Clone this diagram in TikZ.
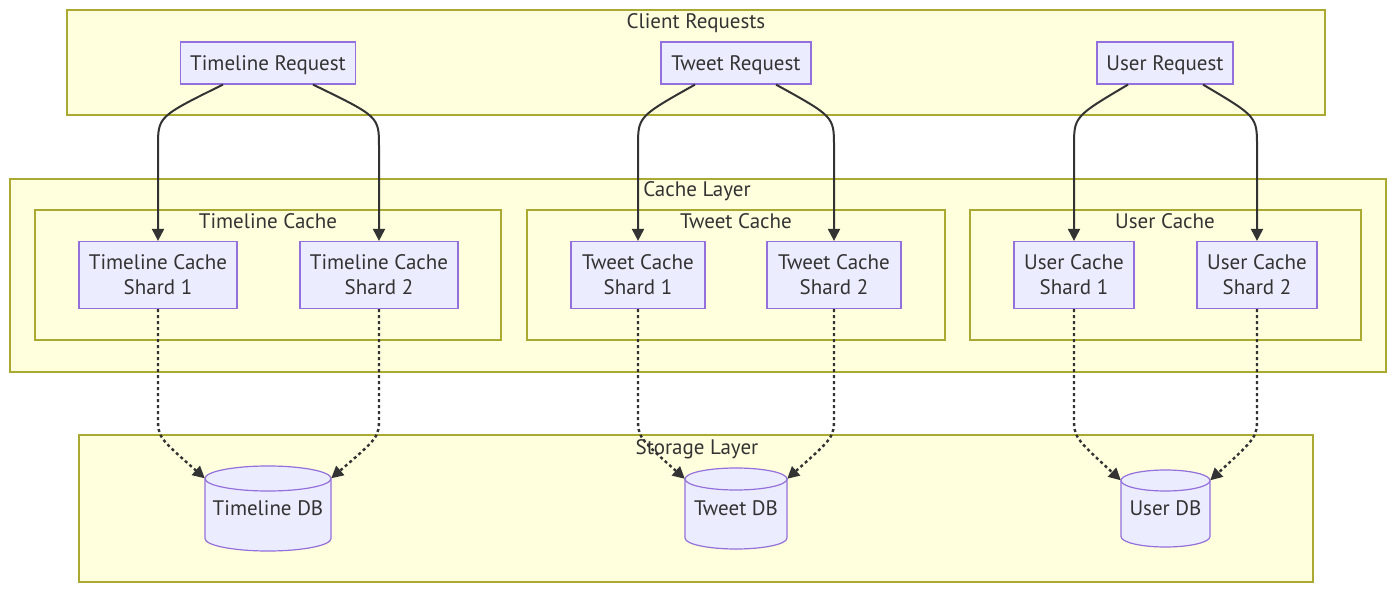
\documentclass[tikz,border=0pt]{standalone}
\usepackage{fontspec}
\setmainfont{PT Sans}
\usetikzlibrary{arrows.meta}
\definecolor{clusterfill}{HTML}{FFFFDE}
\definecolor{clusterline}{HTML}{AAAA33}
\definecolor{nodefill}{HTML}{ECECFF}
\definecolor{nodeline}{HTML}{9370DB}
\definecolor{ink}{HTML}{333333}
\tikzset{
  cluster/.style={draw=clusterline,fill=clusterfill,line width=1.2pt},
  title/.style={text=ink,font=\fontsize{21}{25}\selectfont,inner sep=0pt,anchor=base},
  box/.style={draw=nodeline,fill=nodefill,line width=1.2pt,text=ink,align=center,
    font=\fontsize{21}{25}\selectfont,inner sep=0pt,text depth=0pt,minimum width=#1},
  request/.style={box=#1,minimum height=42pt},
  shard/.style={box=#1,minimum height=67pt},
  dbshape/.style={draw=nodeline,fill=nodefill,line width=1.2pt},
  dblabel/.style 2 args={text=ink,font=\fontsize{21}{25}\selectfont,inner sep=0pt,
    text depth=0pt,minimum width=#1,minimum height=#2},
  call/.style={draw=ink,line width=2pt,-{Triangle[length=12pt,width=12pt]}},
  fetch/.style={draw=ink,line width=2.4pt,dash pattern=on 3pt off 3pt,
    -{Triangle[length=12pt,width=12pt]}}
}
\begin{document}
\begin{tikzpicture}[x=1pt,y=-1pt]
  \useasboundingbox (0,0) rectangle (1400,593);
  \draw[cluster] (67,10) rectangle (1325,115);
  \node[title] (clientlabel) at (696,29) {Client Requests};
  \draw[cluster] (10,179) rectangle (1386,372);
  \node[title] (cachelabel) at (697,197) {Cache Layer};
  \draw[cluster] (35,210) rectangle (501,340);
  \node[title] (tlcachelabel) at (268,229) {Timeline Cache};
  \draw[cluster] (527,210) rectangle (945,340);
  \node[title] (twcachelabel) at (736,229) {Tweet Cache};
  \draw[cluster] (970,210) rectangle (1361,340);
  \node[title] (uscachelabel) at (1165,229) {User Cache};
  \draw[cluster] (79,435) rectangle (1313,582);
  \node[title] (storelabel) at (697,454) {Storage Layer};

  \node[request=175pt] (tlreq) at (268,63) {Timeline Request};
  \node[request=150pt] (twreq) at (736,63) {Tweet Request};
  \node[request=136pt] (usreq) at (1165,63) {User Request};

  \node[shard=158pt] (tls1) at (158,275) {Timeline Cache\\Shard 1};
  \node[shard=158pt] (tls2) at (379,275) {Timeline Cache\\Shard 2};
  \node[shard=134pt] (tws1) at (638,275) {Tweet Cache\\Shard 1};
  \node[shard=134pt] (tws2) at (834,275) {Tweet Cache\\Shard 2};
  \node[shard=120pt] (uss1) at (1074,275) {User Cache\\Shard 1};
  \node[shard=120pt] (uss2) at (1257,275) {User Cache\\Shard 2};

  \coordinate (tldbc) at (268,508.5);
  \coordinate (twdbc) at (736,508.5);
  \coordinate (usdbc) at (1165.5,508.5);
  \foreach \c/\rx/\hh/\ry in {tldbc/63/42.5/12.5,twdbc/51/40.5/11,usdbc/44.5/38.5/10.5} {
    \filldraw[dbshape] ([shift={(-\rx,-\hh+\ry)}]\c) -- ([shift={(-\rx,\hh-\ry)}]\c)
      arc[start angle=180,end angle=360,x radius=\rx pt,y radius=\ry pt]
      -- ([shift={(\rx,-\hh+\ry)}]\c)
      arc[start angle=0,end angle=180,x radius=\rx pt,y radius=\ry pt] -- cycle;
    \draw[dbshape,fill=none] ([shift={(-\rx,-\hh+\ry)}]\c)
      arc[start angle=180,end angle=360,x radius=\rx pt,y radius=\ry pt];
  }
  \node[dblabel={126pt}{85pt}] (tldb) at (tldbc) {Timeline DB};
  \node[dblabel={102pt}{81pt}] (twdb) at (twdbc) {Tweet DB};
  \node[dblabel={89pt}{77pt}] (usdb) at (usdbc) {User DB};

  \foreach \from/\to/\dx in {tlreq/tls1/-45,tlreq/tls2/45,twreq/tws1/-41,
      twreq/tws2/40,usreq/uss1/-37,usreq/uss2/38} {
    \draw[call] ([xshift=\dx pt]\from.south)
      .. controls ([yshift=-32pt]\from.south -| \to.north)
      .. ([yshift=-62pt]\from.south -| \to.north) -- (\to.north);
  }
  \foreach \from/\to/\side/\ry in {tls1/tldb/west/12.5,tls2/tldb/east/12.5,
      tws1/twdb/west/11,tws2/twdb/east/11,uss1/usdb/west/10.5,uss2/usdb/east/10.5} {
    \draw[fetch] (\from.south) -- ([yshift=-108pt]\from.south)
      .. controls ([yshift=-128pt]\from.south) .. ([yshift=-\ry pt]\to.north \side);
  }
\end{tikzpicture}
\end{document}
